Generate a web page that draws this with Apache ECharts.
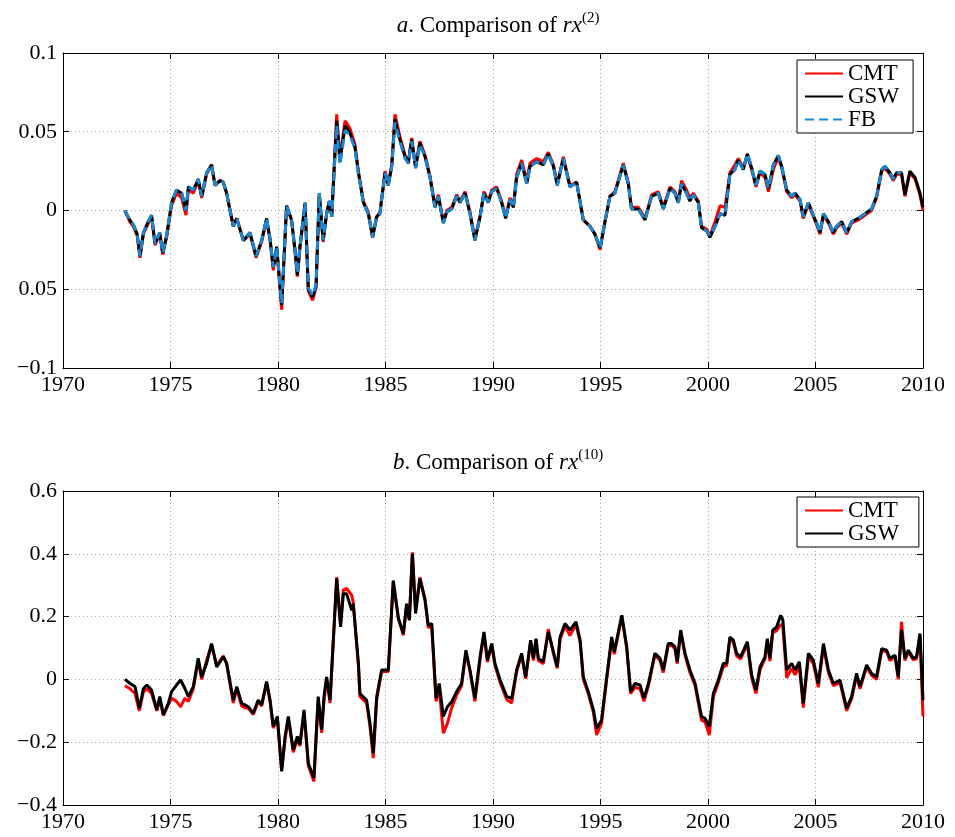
<!DOCTYPE html>
<html>
<head>
<meta charset="utf-8">
<script src="https://cdn.jsdelivr.net/npm/echarts@6.0.0/dist/echarts.min.js"></script>
<style>
  html, body { margin: 0; padding: 0; background: #fff; }
  #chart { width: 955px; height: 837px; }
</style>
</head>
<body>
<div id="chart"></div>
<script>
// panel a: rx(2)
const datesA = [1972.88,1973.10,1973.27,1973.45,1973.58,1973.74,1973.90,1974.12,1974.28,1974.50,1974.64,1974.82,
  1975.05,1975.28,1975.52,1975.72,1975.83,1976.06,1976.29,1976.45,1976.68,1976.91,1977.07,1977.30,1977.45,1977.61,
  1977.92,1978.08,1978.39,1978.70,1978.98,1979.24,1979.47,1979.63,1979.78,1979.94,1980.17,1980.40,1980.63,1980.79,
  1980.90,1981.02,1981.26,1981.41,1981.61,1981.77,1981.92,1982.10,1982.26,1982.39,1982.50,1982.73,1982.88,1983.12,
  1983.35,1983.58,1983.74,1983.97,1984.20,1984.40,1984.59,1984.74,1984.98,1985.13,1985.29,1985.44,1985.67,1985.91,
  1986.06,1986.22,1986.40,1986.60,1986.84,1987.07,1987.30,1987.46,1987.69,1987.85,1988.08,1988.31,1988.47,1988.70,
  1988.93,1989.16,1989.40,1989.58,1989.78,1989.94,1990.17,1990.40,1990.59,1990.79,1990.95,1991.10,1991.33,1991.57,
  1991.72,1992.03,1992.34,1992.57,1992.81,1992.99,1993.27,1993.58,1993.89,1994.20,1994.51,1994.74,1994.98,1995.21,
  1995.44,1995.67,1996.06,1996.29,1996.44,1996.76,1997.07,1997.38,1997.69,1997.92,1998.23,1998.46,1998.62,1998.77,
  1999.00,1999.16,1999.32,1999.55,1999.70,1999.94,2000.09,2000.33,2000.56,2000.79,2001.02,2001.25,2001.41,2001.64,
  2001.83,2002.03,2002.23,2002.42,2002.65,2002.81,2003.04,2003.27,2003.43,2003.66,2003.89,2004.05,2004.28,2004.43,
  2004.67,2004.90,2005.05,2005.21,2005.37,2005.60,2005.83,2005.98,2006.22,2006.45,2006.68,2006.99,2007.30,2007.61,
  2007.84,2008.08,2008.23,2008.46,2008.62,2008.77,2009.00,2009.16,2009.39,2009.63,2009.86,2010.00];
const gswA = [0.000,-0.006,-0.009,-0.015,-0.029,-0.014,-0.009,-0.003,-0.021,-0.014,-0.027,-0.016,
  0.005,0.013,0.011,0.000,0.015,0.013,0.020,0.009,0.024,0.029,0.016,0.019,0.018,0.011,
  -0.010,-0.005,-0.019,-0.014,-0.029,-0.019,-0.005,-0.018,-0.036,-0.023,-0.060,0.003,-0.006,-0.025,
  -0.041,-0.023,0.005,-0.050,-0.055,-0.048,0.011,-0.019,-0.002,0.006,-0.004,0.057,0.031,0.054,
  0.049,0.040,0.024,0.005,-0.002,-0.017,-0.004,-0.002,0.024,0.016,0.028,0.058,0.045,0.034,
  0.030,0.045,0.027,0.043,0.034,0.021,0.002,0.009,-0.008,-0.001,0.001,0.009,0.005,0.011,
  -0.002,-0.019,-0.004,0.011,0.005,0.012,0.014,0.005,-0.005,0.007,0.002,0.021,0.030,0.017,
  0.028,0.031,0.029,0.036,0.028,0.016,0.033,0.015,0.018,-0.006,-0.010,-0.015,-0.024,-0.007,
  0.009,0.011,0.029,0.017,0.001,0.001,-0.006,0.009,0.011,0.001,0.014,0.011,0.005,0.017,
  0.011,0.006,0.010,0.005,-0.011,-0.013,-0.017,-0.010,-0.002,-0.003,0.023,0.026,0.032,0.026,
  0.036,0.027,0.016,0.025,0.023,0.014,0.029,0.035,0.028,0.013,0.009,0.011,0.007,-0.004,
  0.005,-0.003,-0.008,-0.014,-0.002,-0.007,-0.014,-0.010,-0.007,-0.014,-0.007,-0.005,-0.002,0.001,
  0.009,0.026,0.028,0.024,0.020,0.024,0.024,0.010,0.025,0.021,0.011,0.002];
const cmtA = [0.000,-0.007,-0.010,-0.016,-0.030,-0.015,-0.010,-0.004,-0.022,-0.015,-0.028,-0.017,
  0.003,0.011,0.008,-0.003,0.013,0.011,0.019,0.008,0.023,0.029,0.016,0.019,0.018,0.011,
  -0.010,-0.005,-0.019,-0.015,-0.030,-0.020,-0.006,-0.019,-0.038,-0.024,-0.063,0.003,-0.006,-0.026,
  -0.042,-0.024,0.004,-0.051,-0.057,-0.049,0.010,-0.020,-0.002,0.006,-0.003,0.061,0.033,0.057,
  0.052,0.042,0.025,0.006,-0.001,-0.017,-0.004,-0.001,0.025,0.017,0.029,0.061,0.047,0.035,
  0.031,0.046,0.028,0.044,0.035,0.022,0.003,0.010,-0.007,0.000,0.002,0.010,0.006,0.012,
  -0.001,-0.018,-0.003,0.012,0.006,0.013,0.015,0.006,-0.004,0.008,0.003,0.023,0.032,0.019,
  0.030,0.033,0.031,0.037,0.029,0.017,0.034,0.016,0.018,-0.006,-0.010,-0.015,-0.025,-0.007,
  0.009,0.012,0.030,0.018,0.002,0.002,-0.005,0.010,0.012,0.002,0.015,0.012,0.006,0.019,
  0.013,0.008,0.011,0.006,-0.010,-0.012,-0.016,-0.007,0.003,0.002,0.024,0.029,0.033,0.027,
  0.035,0.026,0.015,0.024,0.021,0.012,0.026,0.034,0.027,0.012,0.008,0.010,0.006,-0.005,
  0.004,-0.004,-0.009,-0.015,-0.003,-0.008,-0.015,-0.011,-0.008,-0.015,-0.008,-0.006,-0.003,0.000,
  0.008,0.025,0.027,0.023,0.019,0.023,0.023,0.009,0.024,0.020,0.010,0.000];
const fbA = [0.000,-0.006,-0.009,-0.015,-0.029,-0.014,-0.009,-0.003,-0.021,-0.014,-0.027,-0.016,
  0.005,0.013,0.011,0.000,0.015,0.013,0.020,0.009,0.024,0.029,0.016,0.019,0.018,0.011,
  -0.010,-0.005,-0.019,-0.014,-0.029,-0.019,-0.005,-0.018,-0.036,-0.023,-0.059,0.003,-0.006,-0.025,
  -0.040,-0.023,0.005,-0.049,-0.054,-0.047,0.011,-0.019,-0.002,0.006,-0.004,0.054,0.029,0.051,
  0.048,0.039,0.023,0.005,-0.002,-0.017,-0.004,-0.002,0.024,0.016,0.028,0.056,0.044,0.033,
  0.030,0.044,0.027,0.042,0.034,0.021,0.002,0.009,-0.008,-0.001,0.001,0.009,0.005,0.011,
  -0.002,-0.019,-0.004,0.011,0.005,0.012,0.014,0.005,-0.005,0.007,0.002,0.021,0.030,0.017,
  0.028,0.031,0.029,0.036,0.028,0.016,0.033,0.015,0.018,-0.006,-0.010,-0.015,-0.024,-0.007,
  0.009,0.011,0.029,0.017,0.001,0.001,-0.006,0.009,0.011,0.001,0.014,0.011,0.005,0.017,
  0.011,0.006,0.010,0.005,-0.011,-0.013,-0.016,-0.010,-0.002,-0.003,0.023,0.026,0.032,0.026,
  0.036,0.027,0.016,0.025,0.023,0.014,0.029,0.035,0.028,0.013,0.009,0.011,0.007,-0.004,
  0.005,-0.003,-0.008,-0.014,-0.002,-0.007,-0.014,-0.010,-0.007,-0.014,-0.007,-0.005,-0.002,0.001,
  0.009,0.026,0.028,0.024,0.020,0.024,0.024];

// panel b: rx(10)
const datesB = [1972.88,1973.12,1973.35,1973.55,1973.74,1973.90,1974.12,1974.36,1974.50,1974.67,1974.90,
  1975.05,1975.28,1975.47,1975.67,1975.83,1976.06,1976.29,1976.45,1976.68,1976.91,1977.15,1977.46,1977.61,
  1977.92,1978.08,1978.31,1978.46,1978.62,1978.85,1979.08,1979.24,1979.47,1979.63,1979.78,1979.97,1980.17,
  1980.33,1980.48,1980.71,1980.90,1981.02,1981.21,1981.41,1981.67,1981.87,1982.03,1982.14,1982.26,1982.42,
  1982.73,1982.91,1983.04,1983.19,1983.43,1983.50,1983.74,1983.81,1984.12,1984.28,1984.43,1984.59,1984.82,
  1985.13,1985.36,1985.60,1985.83,1985.98,1986.11,1986.25,1986.40,1986.60,1986.84,1986.99,1987.15,1987.35,
  1987.50,1987.69,1987.88,1988.08,1988.31,1988.54,1988.74,1988.93,1989.16,1989.40,1989.58,1989.74,1989.94,
  1990.09,1990.33,1990.64,1990.87,1991.10,1991.33,1991.52,1991.75,1991.88,1992.00,1992.11,1992.34,1992.57,
  1992.81,1992.99,1993.12,1993.35,1993.58,1993.86,1994.05,1994.20,1994.43,1994.67,1994.82,1995.05,1995.29,
  1995.52,1995.64,1995.99,1996.22,1996.40,1996.60,1996.84,1997.02,1997.23,1997.53,1997.77,1997.92,1998.15,
  1998.31,1998.46,1998.57,1998.73,1998.93,1999.16,1999.40,1999.55,1999.70,1999.86,2000.06,2000.25,2000.48,
  2000.71,2000.87,2001.02,2001.18,2001.33,2001.52,2001.83,2002.03,2002.23,2002.42,2002.65,2002.76,2002.88,
  2003.01,2003.19,2003.38,2003.48,2003.66,2003.89,2004.05,2004.25,2004.43,2004.67,2004.90,2005.13,2005.37,
  2005.60,2005.83,2006.14,2006.45,2006.68,2006.91,2007.07,2007.38,2007.61,2007.84,2008.08,2008.31,2008.46,
  2008.70,2008.85,2009.00,2009.16,2009.32,2009.55,2009.70,2009.86,2010.00];
const gswB = [0.000,-0.013,-0.023,-0.092,-0.029,-0.018,-0.034,-0.097,-0.055,-0.113,-0.076,
  -0.039,-0.018,-0.002,-0.029,-0.055,-0.023,0.067,0.008,0.051,0.114,0.040,0.072,0.051,
  -0.066,-0.023,-0.076,-0.081,-0.087,-0.108,-0.066,-0.081,-0.007,-0.066,-0.150,-0.118,-0.293,
  -0.182,-0.118,-0.224,-0.182,-0.208,-0.097,-0.267,-0.314,-0.055,-0.161,-0.055,0.008,-0.066,
  0.321,0.167,0.273,0.273,0.220,0.241,0.051,-0.045,-0.066,-0.140,-0.235,-0.055,0.030,
  0.030,0.315,0.194,0.146,0.241,0.188,0.400,0.210,0.321,0.252,0.172,0.178,-0.060,
  -0.013,-0.118,-0.087,-0.071,-0.039,-0.013,0.093,0.030,-0.060,0.072,0.151,0.061,0.114,
  0.051,-0.002,-0.055,-0.060,0.030,0.083,0.008,0.125,0.067,0.130,0.067,0.056,0.151,
  0.088,0.040,0.135,0.178,0.157,0.183,0.125,0.008,-0.039,-0.097,-0.156,-0.129,0.008,
  0.135,0.088,0.204,0.104,-0.039,-0.013,-0.018,-0.060,-0.013,0.083,0.067,0.030,0.114,
  0.114,0.104,0.056,0.157,0.083,0.030,-0.013,-0.066,-0.118,-0.124,-0.150,-0.044,-0.002,
  0.051,0.051,0.135,0.125,0.083,0.072,0.120,0.014,-0.034,0.040,0.072,0.130,0.067,
  0.157,0.167,0.204,0.190,0.030,0.051,0.030,0.056,-0.076,0.083,0.061,-0.013,0.114,
  0.030,-0.013,-0.002,-0.092,-0.055,0.019,-0.023,0.046,0.019,0.008,0.098,0.093,0.067,
  0.077,0.008,0.157,0.067,0.093,0.067,0.072,0.146,-0.066];
const cmtB = [-0.020,-0.030,-0.045,-0.100,-0.040,-0.030,-0.045,-0.100,-0.065,-0.115,-0.080,
  -0.060,-0.070,-0.087,-0.060,-0.070,-0.030,0.060,0.000,0.060,0.110,0.045,0.075,0.050,
  -0.075,-0.030,-0.085,-0.090,-0.092,-0.112,-0.070,-0.085,-0.010,-0.070,-0.155,-0.125,-0.290,
  -0.190,-0.125,-0.232,-0.190,-0.212,-0.105,-0.275,-0.325,-0.065,-0.170,-0.065,0.000,-0.075,
  0.326,0.175,0.285,0.290,0.268,0.245,0.045,-0.055,-0.075,-0.150,-0.251,-0.065,0.025,
  0.025,0.310,0.195,0.140,0.235,0.190,0.405,0.220,0.325,0.255,0.165,0.170,-0.070,
  -0.030,-0.171,-0.140,-0.090,-0.050,-0.020,0.085,0.025,-0.070,0.065,0.145,0.055,0.110,
  0.045,-0.010,-0.065,-0.075,0.025,0.078,0.002,0.120,0.060,0.125,0.060,0.050,0.160,
  0.082,0.035,0.128,0.170,0.140,0.175,0.120,0.000,-0.045,-0.105,-0.177,-0.140,0.000,
  0.130,0.080,0.200,0.098,-0.045,-0.025,-0.030,-0.070,-0.020,0.078,0.060,0.022,0.108,
  0.108,0.098,0.050,0.152,0.078,0.022,-0.020,-0.075,-0.130,-0.135,-0.177,-0.055,-0.010,
  0.040,0.045,0.130,0.118,0.075,0.065,0.112,0.005,-0.045,0.030,0.065,0.122,0.058,
  0.148,0.155,0.175,0.170,0.005,0.035,0.015,0.040,-0.090,0.072,0.050,-0.025,0.105,
  0.022,-0.020,-0.010,-0.100,-0.062,0.010,-0.030,0.040,0.012,0.000,0.092,0.088,0.060,
  0.072,0.000,0.183,0.060,0.088,0.062,0.066,0.140,-0.118];

const xTicks = [1970, 1975, 1980, 1985, 1990, 1995, 2000, 2005, 2010];
const yTicksA = [-0.1, -0.05, 0, 0.05, 0.1];
const yLabelsA = ['\u22120.1', '0.05', '0', '0.05', '0.1'];
const yTicksB = [-0.4, -0.2, 0, 0.2, 0.4, 0.6];
const yLabelsB = ['\u22120.4', '\u22120.2', '0', '0.2', '0.4', '0.6'];

const FONT = 'Liberation Serif';
const pairs = (xs, ys) => ys.map((y, i) => [xs[i], y]);
const lookup = (ticks, labels) => v => {
  const i = ticks.findIndex(t => Math.abs(t - v) < 1e-9);
  return i < 0 ? '' : labels[i];
};

function xAxes(gi) {
  const base = {
    gridIndex: gi, type: 'value', min: xTicks[0], max: xTicks[xTicks.length - 1], interval: 5,
    axisLine: { show: true, onZero: false, lineStyle: { color: '#000', width: 1 } },
    axisTick: { show: true, inside: true, length: 6, lineStyle: { color: '#000' } }
  };
  return [
    Object.assign({}, base, {
      position: 'bottom',
      axisLabel: { color: '#000', fontFamily: FONT, fontSize: 22, margin: 6, formatter: v => String(v) },
      splitLine: { show: true, lineStyle: { color: '#a8a8a8', type: [1, 3], width: 1 } }
    }),
    Object.assign({}, base, { position: 'top', axisLabel: { show: false }, splitLine: { show: false } })
  ];
}
function yAxes(gi, ticks, labels) {
  const base = {
    gridIndex: gi, type: 'value', min: ticks[0], max: ticks[ticks.length - 1],
    interval: ticks[1] - ticks[0],
    axisLine: { show: true, onZero: false, lineStyle: { color: '#000', width: 1 } },
    axisTick: { show: true, inside: true, length: 6, lineStyle: { color: '#000' } }
  };
  return [
    Object.assign({}, base, {
      position: 'left',
      axisLabel: { color: '#000', fontFamily: FONT, fontSize: 22, margin: 6, formatter: lookup(ticks, labels) },
      splitLine: { show: true, lineStyle: { color: '#a8a8a8', type: [1, 3], width: 1 } }
    }),
    Object.assign({}, base, { position: 'right', axisLabel: { show: false }, splitLine: { show: false } })
  ];
}

const titleRich = {
  i: { fontFamily: FONT, fontSize: 23, fontStyle: 'italic', color: '#000' },
  s: { fontFamily: FONT, fontSize: 15, color: '#000', padding: [0, 0, 14, 0] }
};
const legendBase = {
  orient: 'vertical', left: 797, itemWidth: 38, itemHeight: 14, itemGap: 0,
  padding: [2, 14, 2, 7], borderColor: '#000', borderWidth: 1, backgroundColor: '#fff',
  itemStyle: { opacity: 0 },
  textStyle: { fontFamily: FONT, fontSize: 23, color: '#000', lineHeight: 21 }
};

const lineSeries = (name, xi, yi, data, color, type) => ({
  name: name, type: 'line', xAxisIndex: xi, yAxisIndex: yi, data: data,
  symbol: 'none', showSymbol: false, animation: false,
  lineStyle: { color: color, width: 3, type: type || 'solid' },
  itemStyle: { color: color }
});

const chart = echarts.init(document.getElementById('chart'));
chart.setOption({
  backgroundColor: '#fff',
  animation: false,
  title: [
    { text: '{i|a}. Comparison of {i|rx}{s|(2)}', left: 493, top: 6, textAlign: 'center',
      textStyle: { fontFamily: FONT, fontSize: 23, fontWeight: 'normal', color: '#000', rich: titleRich } },
    { text: '{i|b}. Comparison of {i|rx}{s|(10)}', left: 493, top: 443, textAlign: 'center',
      textStyle: { fontFamily: FONT, fontSize: 23, fontWeight: 'normal', color: '#000', rich: titleRich } }
  ],
  grid: [
    { left: 63, width: 860, top: 53, height: 315 },
    { left: 63, width: 860, top: 491, height: 314 }
  ],
  xAxis: xAxes(0).concat(xAxes(1)),
  yAxis: yAxes(0, yTicksA, yLabelsA).concat(yAxes(1, yTicksB, yLabelsB)),
  legend: [
    Object.assign({}, legendBase, { top: 60, data: ['CMT', 'GSW', 'FB'] }),
    Object.assign({}, legendBase, { top: 497, data: ['CMT ', 'GSW '] })
  ],
  series: [
    lineSeries('CMT', 0, 0, pairs(datesA, cmtA), '#ff0000'),
    lineSeries('GSW', 0, 0, pairs(datesA, gswA), '#000000'),
    lineSeries('FB', 0, 0, pairs(datesA, fbA), '#1a87d0', [9, 5]),
    lineSeries('CMT ', 2, 2, pairs(datesB, cmtB), '#ff0000'),
    lineSeries('GSW ', 2, 2, pairs(datesB, gswB), '#000000')
  ]
});
</script>
</body>
</html>
